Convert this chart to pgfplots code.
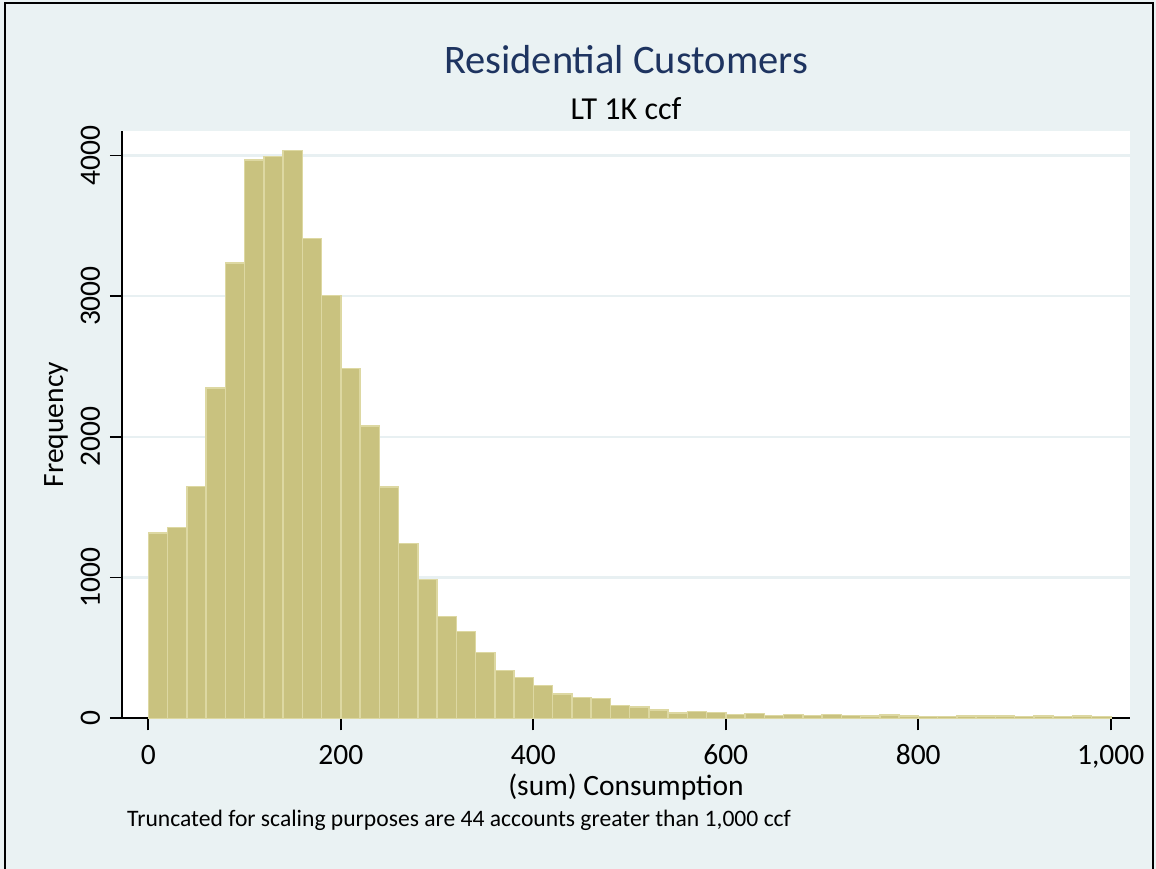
\documentclass[border=0pt]{standalone}
\usepackage{pgfplots}
\pgfplotsset{compat=1.18}
\usepackage{fontspec}
\setmainfont{Carlito}
\definecolor{bgcol}{RGB}{234,242,243}
\definecolor{barfill}{RGB}{201,194,127}
\definecolor{baredge}{RGB}{221,216,162}
\definecolor{gridcol}{RGB}{232,240,242}
\definecolor{titlecol}{RGB}{30,52,96}
\begin{document}
\begin{tikzpicture}
\fill[bgcol] (-122pt,-150.7pt) rectangle (1034pt,718.3pt);
\draw[black, line width=2pt] (-117pt,-151pt) -- (-117pt,715.3pt) -- (1031pt,715.3pt) -- (1031pt,-151pt);
\begin{axis}[
  at={(0pt,0pt)}, anchor=south west,
  scale only axis, width=1008pt, height=587.3pt,
  xmin=-27.3, xmax=1020, ymin=0, ymax=4173,
  axis background/.style={fill=white},
  axis x line*=bottom, axis y line*=left,
  axis line style={line width=1.6pt, black},
  xtick={0,200,400,600,800,1000},
  xticklabels={0,200,400,600,800,{1,000}},
  ytick={0,1000,2000,3000,4000},
  yticklabels={0,1000,2000,3000,4000},
  tick align=outside, major tick length=12pt,
  every tick/.style={black, line width=1.6pt},
  tick label style={font=\fontsize{29.5}{34}\selectfont},
  xticklabel style={anchor=base, yshift=-34pt},
  yticklabel style={xshift=-10pt, rotate=90, anchor=base},
  ymajorgrids, grid style={gridcol, line width=2.5pt},
  xlabel={(sum) Consumption},
  ylabel={Frequency},
  label style={font=\fontsize{29.5}{34}\selectfont},
  xlabel style={at={(axis description cs:0.5,-0.131)}, anchor=base},
  ylabel style={at={(axis description cs:-0.0655,0.5)}, anchor=center},
  clip=false,
]
\addplot[ybar, bar width=20, bar shift=0pt, fill=barfill, draw=baredge, line width=1.5pt] coordinates {
(10,1317) (30,1355) (50,1647) (70,2348) (90,3234) (110,3966) (130,3990) (150,4035)
(170,3409) (190,3004) (210,2485) (230,2078) (250,1644) (270,1241) (290,986) (310,725)
(330,618) (350,469) (370,339) (390,291) (410,232) (430,173) (450,149) (470,140)
(490,92) (510,82) (530,60) (550,38) (570,50) (590,40) (610,28) (630,35)
(650,20) (670,28) (690,19) (710,28) (730,19) (750,15) (770,22) (790,15)
(810,12) (830,12) (850,15) (870,15) (890,15) (910,12) (930,15) (950,12)
(970,15) (990,12)
};
\node[anchor=base, text=titlecol, font=\fontsize{40.5}{46}\selectfont] at (axis description cs:0.5,1.0986) {Residential Customers};
\node[anchor=base, font=\fontsize{32}{37}\selectfont] at (axis description cs:0.5,1.0199) {LT 1K ccf};
\node[anchor=base west, font=\fontsize{23.6}{28}\selectfont, inner sep=0pt] at (axis description cs:0.005,-0.1837) {Truncated for scaling purposes are 44 accounts greater than 1,000 ccf};
\end{axis}
\pgfresetboundingbox
\path (-122pt,-150.7pt) rectangle (1034pt,718.3pt);
\end{tikzpicture}
\end{document}
